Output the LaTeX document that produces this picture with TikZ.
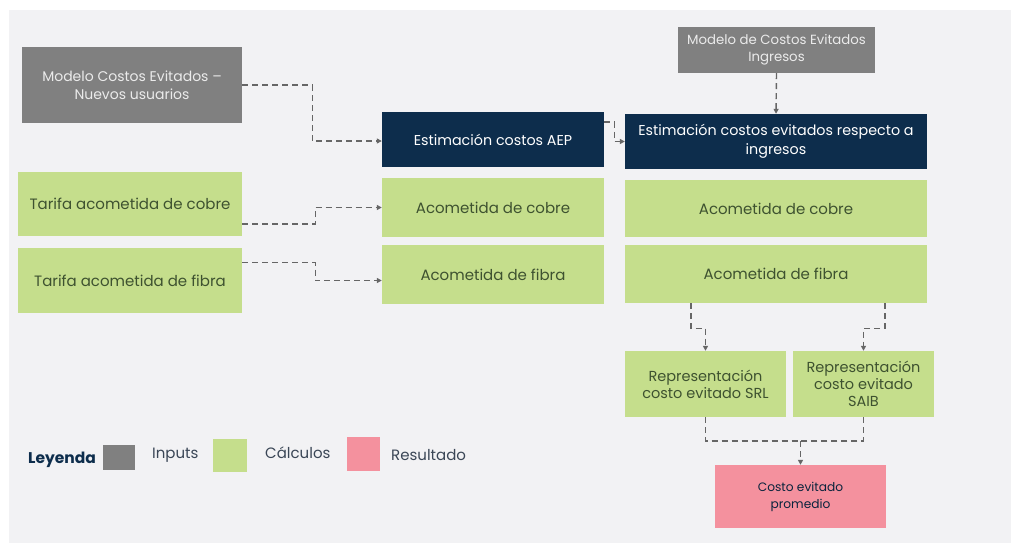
\documentclass[tikz,border=0pt]{standalone}
\usepackage{fontspec}
\setmainfont{Poppins}
\usetikzlibrary{arrows.meta,calc}
\definecolor{panel}{HTML}{F2F2F4}
\definecolor{ingray}{HTML}{808080}
\definecolor{navy}{HTML}{0D2D4C}
\definecolor{calc}{HTML}{C5DE8C}
\definecolor{res}{HTML}{F4919E}
\definecolor{gtext}{HTML}{3E5230}
\definecolor{conn}{HTML}{666666}
\definecolor{legtext}{HTML}{3A4656}
\begin{document}
\begin{tikzpicture}[x=1pt,y=-1pt,
  box/.style={rectangle, inner sep=3pt, align=center},
  inbox/.style={box, fill=ingray, text=white!92!black, font=\fontsize{14}{18}\selectfont},
  navybox/.style={box, fill=navy, text=white, font=\fontsize{14.3}{19}\selectfont},
  calcbox/.style={box, fill=calc, text=gtext, font=\fontsize{15}{17.5}\selectfont},
  resbox/.style={box, fill=res, text=navy!80!black, font=\fontsize{12.2}{17}\selectfont},
  link/.style={conn, line width=1.4pt, dash pattern=on 6pt off 4pt},
  arr/.style={link, -{Triangle[length=5pt,width=5pt]}},
  legtxt/.style={text=legtext, font=\fontsize{15}{18}\selectfont, inner sep=0pt}
]
\useasboundingbox (0,0) rectangle (1011,543);
\fill[white] (0,0) rectangle (1011,543);
\fill[panel] (9,10) rectangle (1011,543);

\node[inbox, minimum width=220, minimum height=76] (nu) at (132,85) {Modelo Costos Evitados –\\Nuevos usuarios};
\node[inbox, minimum width=197, minimum height=46, font=\fontsize{13.3}{17}\selectfont] (ing) at (776.5,50) {Modelo de Costos Evitados\\Ingresos};
\node[navybox, minimum width=222, minimum height=55] (aep) at (493,139.5) {Estimación costos AEP};
\node[navybox, minimum width=302, minimum height=55] (eci) at (776,141.5) {Estimación costos evitados respecto a\\ingresos};
\node[calcbox, minimum width=224, minimum height=64] (tc) at (130,204) {Tarifa acometida de cobre};
\node[calcbox, minimum width=224, minimum height=65] (tf) at (130,280.5) {Tarifa acometida de fibra};
\node[calcbox, minimum width=222, minimum height=59] (ac1) at (493,207.5) {Acometida de cobre};
\node[calcbox, minimum width=222, minimum height=59] (af1) at (493,274.5) {Acometida de fibra};
\node[calcbox, minimum width=302, minimum height=57] (ac2) at (776,208.5) {Acometida de cobre};
\node[calcbox, minimum width=302, minimum height=58] (af2) at (776,274) {Acometida de fibra};
\node[calcbox, minimum width=161, minimum height=66, font=\fontsize{14.5}{17}\selectfont] (srl) at (705.5,384) {Representación\\costo evitado SRL};
\node[calcbox, minimum width=141, minimum height=66, font=\fontsize{14.5}{17}\selectfont] (saib) at (863.5,384) {Representación\\costo evitado\\SAIB};
\node[resbox, minimum width=171, minimum height=63] (prom) at (800.5,496.5) {Costo evitado\\promedio};

% connectors
\draw[arr] (nu.east) -- ++(70,0) |- ($(aep.west)+(0,1.5)$);
\draw[arr] ($(aep.north east)+(0,10)$) -- ++(10,0) |- (eci.west);
\draw[arr] (ing.south) -- (eci.north);
\draw[arr] ($(tc.east)+(0,20)$) -- ++(73,0) |- (ac1.west);
\draw[arr] ($(tf.east)+(0,-18)$) -- ++(73,0) |- ($(af1.west)+(0,6)$);
\draw[arr] ($(af2.south west)+(66,0)$) -- ++(0,25) -| (srl.north);
\draw[arr] ($(af2.south west)+(260,0)$) -- ++(0,25) -| (saib.north);
\coordinate (j) at (800.5,441);
\draw[link] (srl.south) |- (j);
\draw[link] (saib.south) |- (j);
\draw[arr] (j) -- (prom.north);

% legend
\node[anchor=west, text=navy, font=\fontsize{15.5}{18}\selectfont\bfseries, inner sep=0pt] (ley) at (28,460) {Leyenda};
\node[fill=ingray, minimum width=32, minimum height=25, inner sep=0pt] (lg) at (119,457.5) {};
\node[legtxt, anchor=west] (lgi) at (152,455) {Inputs};
\node[fill=calc, minimum width=34, minimum height=33, inner sep=0pt] (lc) at (230,455.5) {};
\node[legtxt, anchor=west] (lci) at (265,453) {Cálculos};
\node[fill=res, minimum width=33, minimum height=34, inner sep=0pt] (lr) at (363.5,454) {};
\node[legtxt, anchor=west] (lri) at (391,455) {Resultado};
\end{tikzpicture}
\end{document}
